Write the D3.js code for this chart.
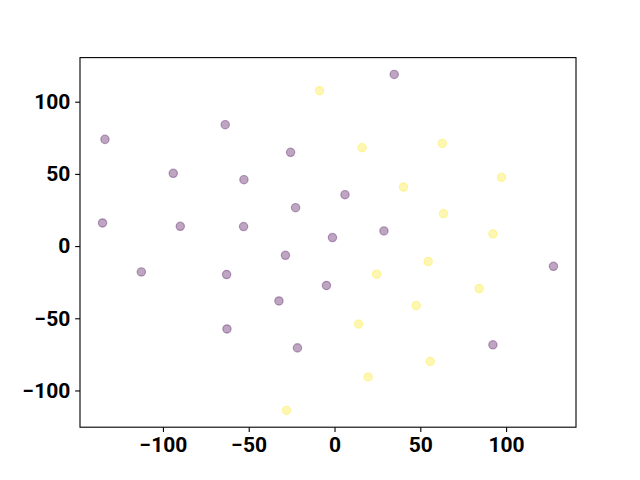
<!DOCTYPE html>
<html>
<head>
<meta charset="utf-8">
<script src="https://cdn.jsdelivr.net/npm/d3@7"></script>
<style>
  body { margin: 0; background: #fff; }
</style>
</head>
<body>
<div id="chart"></div>
<script>
// points, class 0 = purple, class 1 = yellow
var xs = [-133.8, -63.7, -25.6, -94.0, -52.8, 6.1, -22.7, -135.2, -89.9, -53.0, -1.2, 34.8, 28.8,
          -112.6, -62.9, -28.6, -4.7, -32.4, -62.7, -21.6, 127.6, 92.3,
          -8.7, 16.1, 62.8, 97.3, 40.2, 63.5, 92.3, 54.6, 24.5, 84.3, 47.6, 14.0, 55.8, 19.6, -28.0]
var ys = [73.9, 84.1, 64.9, 50.4, 46.0, 35.6, 26.6, 16.0, 13.7, 13.5, 5.9, 118.9, 10.5,
          -17.9, -19.7, -6.4, -27.3, -38.0, -57.4, -70.5, -14.0, -68.4,
          107.6, 68.2, 71.1, 47.6, 40.9, 22.5, 8.4, -10.7, -19.5, -29.4, -41.2, -54.0, -79.9, -90.6, -113.8]
var labels = [0, 0, 0, 0, 0, 0, 0, 0, 0, 0, 0, 0, 0,
              0, 0, 0, 0, 0, 0, 0, 0, 0,
              1, 1, 1, 1, 1, 1, 1, 1, 1, 1, 1, 1, 1, 1, 1]
var xTicks = [-100, -50, 0, 50, 100]
var yTicks = [-100, -50, 0, 50, 100]
var colors = ["#440154", "#fde725"]

var dims = {
    width: 640, height: 480,
    margin: {top: 57.6, right: 64, bottom: 52.8, left: 80}
}
var w = dims.width - dims.margin.left - dims.margin.right
var h = dims.height - dims.margin.top - dims.margin.bottom

var points = xs.map((x, i) => ({x: x, y: ys[i], c: labels[i]}))

// 5% padding like matplotlib autoscale
function padded(ext) {
    var p = (ext[1] - ext[0]) * 0.05
    return [ext[0] - p, ext[1] + p]
}
var xScale = d3.scaleLinear().domain(padded(d3.extent(xs))).range([0, w])
var yScale = d3.scaleLinear().domain(padded(d3.extent(ys))).range([h, 0])

var svg = d3.select("#chart").append("svg")
    .attr("width", dims.width)
    .attr("height", dims.height)
    .append("g")
    .attr("transform", `translate(${dims.margin.left},${dims.margin.top})`)

// points
svg.append("g")
    .selectAll("circle")
    .data(points)
    .enter()
    .append("circle")
    .attr("cx", d => xScale(d.x))
    .attr("cy", d => yScale(d.y))
    .attr("r", 4.17)
    .attr("fill", d => colors[d.c])
    .attr("fill-opacity", 0.35)
    .attr("stroke", d => colors[d.c])
    .attr("stroke-opacity", 0.35)
    .attr("stroke-width", 1.2)

// axes
var fmt = d3.format("d")
var xAxis = svg.append("g")
    .attr("transform", `translate(0,${h})`)
    .call(d3.axisBottom(xScale).tickValues(xTicks).tickFormat(fmt).tickSize(4.86).tickPadding(4.86))
var yAxis = svg.append("g")
    .call(d3.axisLeft(yScale).tickValues(yTicks).tickFormat(fmt).tickSize(4.86).tickPadding(4.86))

;[xAxis, yAxis].forEach(a => {
    a.select(".domain").remove()
    a.selectAll(".tick line").attr("stroke", "#000").attr("stroke-width", 1.1)
    a.selectAll(".tick text")
        .attr("fill", "#000")
        .style("font-size", "21px")
        .style("font-family", "Roboto, sans-serif")
        .style("font-weight", "bold")
})

// frame
svg.append("rect")
    .attr("x", 0).attr("y", 0)
    .attr("width", w).attr("height", h)
    .attr("fill", "none")
    .attr("stroke", "#000")
    .attr("stroke-width", 1.1)
</script>
</body>
</html>
